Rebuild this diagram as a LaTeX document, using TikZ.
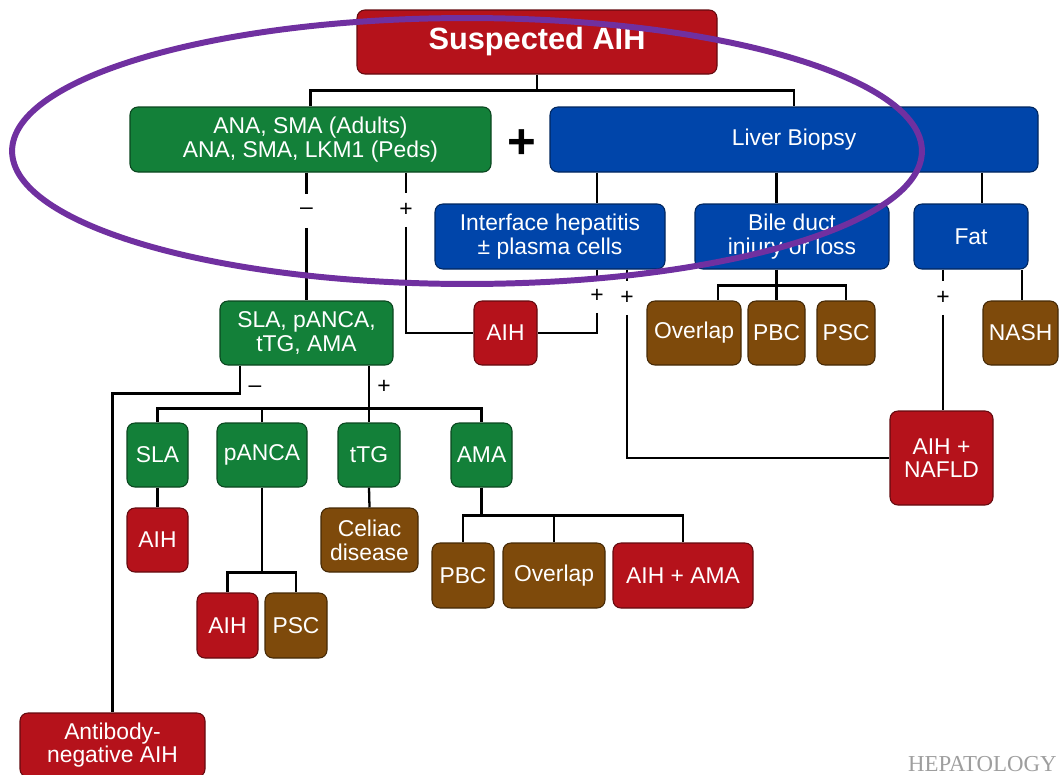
\documentclass[tikz,border=0pt]{standalone}
\usepackage{fontspec}
\setmainfont{Liberation Sans}
\newfontfamily\journalfont{Liberation Serif}

\definecolor{aihred}{HTML}{B5121B}
\definecolor{abgreen}{HTML}{138039}
\definecolor{bxblue}{HTML}{0045AA}
\definecolor{dxbrown}{HTML}{7E4A0B}
\definecolor{ringpurple}{HTML}{7030A0}

\tikzset{
  box/.style={rounded corners=4.5pt, draw=#1!55!black, fill=#1, line width=0.6pt,
    text=white, align=center, inner sep=0pt, font=\fontsize{13}{13.5}\selectfont},
  dim/.style 2 args={minimum width=#1*0.02cm, minimum height=#2*0.02cm},
  link/.style={line width=1.3pt},
  sign/.style={inner sep=0pt, minimum height=0.66cm, font=\fontsize{13}{13}\selectfont},
}

\begin{document}
\begin{tikzpicture}[x=0.02cm, y=-0.02cm]
  \useasboundingbox (0,0) rectangle (1060,774);
  \clip (0,0) rectangle (1060,774);

  \node[box=aihred, dim={360}{64}] (susp) at (537,42)
    {\raisebox{2.8pt}{\fontsize{17.5}{17.5}\selectfont\bfseries Suspected AIH}};
  \node[box=abgreen, dim={361}{65}] (ana) at (310.5,139.5)
    {ANA, SMA (Adults)\\ANA, SMA, LKM1 (Peds)};
  \node[font=\fontsize{28}{28}\selectfont\bfseries] (and) at (522,144) {+};
  \node[box=bxblue, dim={488}{65}] (biopsy) at (794,139.5) {Liver Biopsy};
  \node[box=bxblue, dim={230}{65}] (iface) at (550,236.5)
    {Interface hepatitis\\± plasma cells};
  \node[box=bxblue, dim={194}{65}] (bile) at (792,236.5) {Bile duct\\injury or loss};
  \node[box=bxblue, dim={114}{65}] (fat) at (971,236.5) {Fat};
  \node[box=aihred, dim={63}{64}] (aih1) at (505.5,333) {AIH};
  \node[box=dxbrown, dim={94}{64}] (overlap1) at (694,333) {Overlap};
  \node[box=dxbrown, dim={57}{64}] (pbc1) at (776.5,333) {PBC};
  \node[box=dxbrown, dim={58}{64}] (psc1) at (846,333) {PSC};
  \node[box=dxbrown, dim={75}{64}] (nash) at (1020.5,333) {NASH};
  \node[box=abgreen, dim={173}{64}] (panel) at (306.5,333) {SLA, pANCA,\\tTG, AMA};
  \node[box=aihred, dim={103}{94}] (aihnafld) at (941.5,458) {AIH +\\NAFLD};
  \node[box=abgreen, dim={61}{64}] (sla) at (157.5,455) {SLA};
  \node[box=abgreen, dim={90}{64}] (panca) at (262,455) {pANCA};
  \node[box=abgreen, dim={62}{64}] (ttg) at (369,455) {tTG};
  \node[box=abgreen, dim={61}{64}] (ama) at (481.5,455) {AMA};
  \node[box=aihred, dim={61}{64}] (aih2) at (157.5,540) {AIH};
  \node[box=dxbrown, dim={97}{64}] (celiac) at (369.5,540) {Celiac\\disease};
  \node[box=aihred, dim={61}{65}] (aih3) at (227.5,625.5) {AIH};
  \node[box=dxbrown, dim={62}{65}] (psc2) at (296,625.5) {PSC};
  \node[box=dxbrown, dim={62}{65}] (pbc2) at (463,575.5) {PBC};
  \node[box=dxbrown, dim={102}{65}] (overlap2) at (554,575.5) {Overlap};
  \node[box=aihred, dim={140}{65}] (aihama) at (683,575.5) {AIH + AMA};
  \node[box=aihred, dim={185}{64}] (abneg) at (112.5,745) {Antibody-\\negative AIH};

  \node[sign] (negA) at (306.5,211) {--};
  \node[sign] (posA) at (406,210) {+};
  \node[sign] (posI) at (597,296) {+};
  \node[sign] (posJ) at (627,298) {+};
  \node[sign] (posF) at (943,298) {+};
  \node[sign] (negP) at (255,389) {--};
  \node[sign] (posP) at (384,387) {+};

  \coordinate (fx) at (982,0);
  \coordinate (nx) at (1022,0);
  \coordinate (ox) at (718,0);
  \coordinate (ax) at (240,0);

  \begin{scope}[link]
    \draw (susp.south) -- ++(0,16) coordinate (top) -| (ana.north);
    \draw (top) -| (biopsy.north);
    \draw (ana.south -| negA) -- (negA.north);
    \draw (negA.south) -- (panel.north);
    \draw (ana.south -| posA) -- (posA.north);
    \draw (posA.south) |- (aih1.west);
    \draw (biopsy.south -| posI) -- (iface.north -| posI);
    \draw (biopsy.south -| pbc1) -- (bile.north -| pbc1);
    \draw (biopsy.south -| fx) -- (fat.north -| fx);
    \draw (iface.south -| posI) -- (posI.north);
    \draw (posI.south) |- (aih1.east);
    \draw (iface.south -| posJ) -- (posJ.north);
    \draw (posJ.south) |- (aihnafld.west);
    \draw (bile.south -| pbc1) -- ++(0,16) coordinate (bj) -- (pbc1.north);
    \draw (bj) -| (psc1.north);
    \draw (bj) -| (overlap1.north -| ox);
    \draw (fat.south -| posF) -- (posF.north);
    \draw (posF.south) -- (aihnafld.north -| posF);
    \draw (fat.south -| nx) -- (nash.north -| nx);
    \draw (panel.south -| ax) -- ++(0,28) -| (abneg.north);
    \draw (panel.south -| ttg) -- ++(0,43) coordinate (pj) -- (ttg.north);
    \draw (pj) -| (sla.north);
    \draw (pj) -| (ama.north);
    \draw (panca.north) -- (panca.north |- pj);
    \draw (sla.south) -- (aih2.north);
    \draw (ttg.south) -- (celiac.north);
    \draw (panca.south) -- ++(0,85) coordinate (qj) -| (aih3.north);
    \draw (qj) -| (psc2.north);
    \draw (ama.south) -- ++(0,28) coordinate (rj) -| (pbc2.north);
    \draw (rj) -| (overlap2.north);
    \draw (rj) -| (aihama.north);
  \end{scope}

  \draw[ringpurple, line width=3.4pt] (467,151) ellipse [x radius=9.1cm, y radius=2.66cm];

  \node[anchor=base east, inner sep=0pt, text=black!38,
    font=\journalfont\fontsize{13}{13}\selectfont] (journal) at (1057,771) {HEPATOLOGY};
\end{tikzpicture}
\end{document}
